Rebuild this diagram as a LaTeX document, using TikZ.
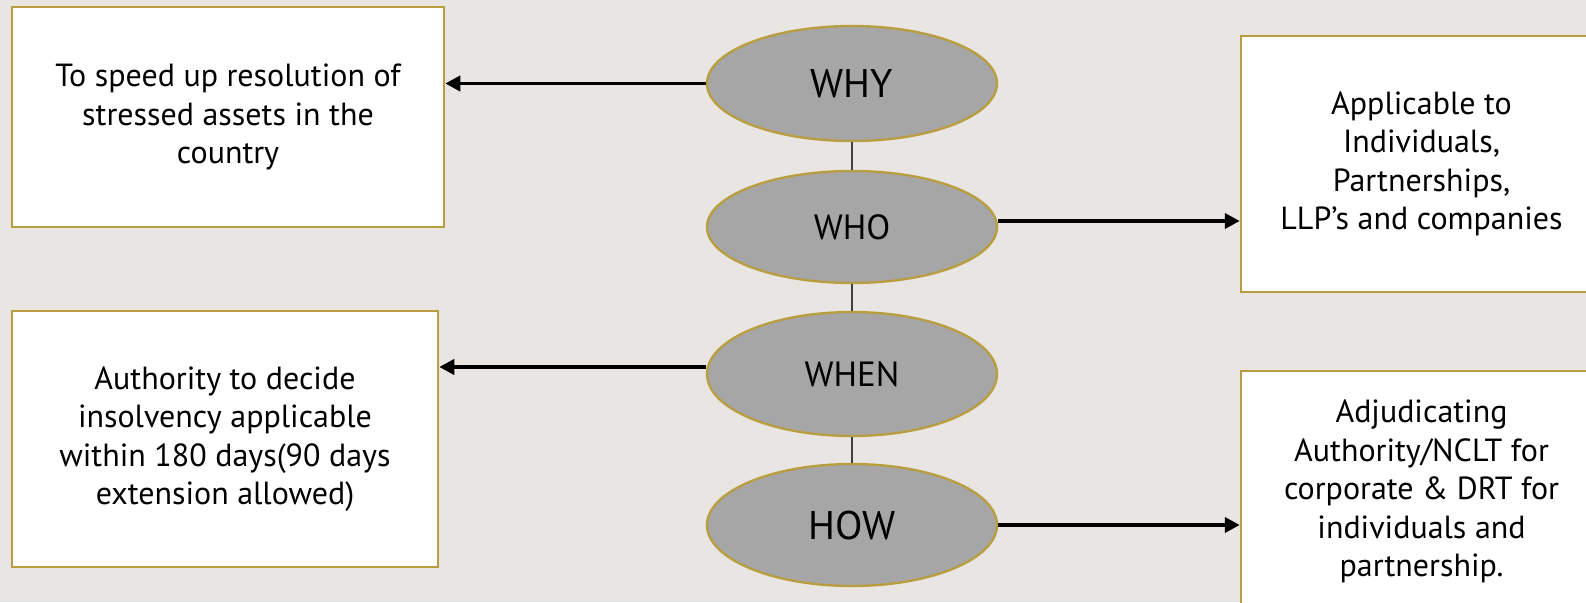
\documentclass[tikz,border=0pt]{standalone}
\usepackage{fontspec}
\setmainfont{PT Sans}
\usetikzlibrary{shapes.geometric,arrows.meta}
\definecolor{bg}{RGB}{232,229,226}
\definecolor{gold}{RGB}{184,158,62}
\definecolor{ellfill}{RGB}{166,166,166}
\definecolor{vline}{RGB}{64,64,64}
\tikzset{
  infobox/.style={draw=gold, line width=2.5pt, fill=white, inner sep=0pt, align=center,
    font=\fontsize{32}{38.5}\selectfont},
  qell/.style={ellipse, draw=gold, line width=2.3pt, fill=ellfill, inner sep=0pt,
    minimum width=290pt},
  bigq/.style={font=\fontsize{40}{44}\selectfont},
  smallq/.style={font=\fontsize{35}{40}\selectfont},
  arr/.style={line width=3.8pt, -{Triangle[length=15pt,width=15pt]}},
  vconn/.style={draw=vline, line width=1.5pt}
}
\begin{document}
\begin{tikzpicture}[x=1pt,y=-1pt]
\useasboundingbox (0,0) rectangle (1586,602);
\clip (0,0) rectangle (1586,602);
\fill[bg] (0,0) rectangle (1586,602);

\node[infobox, minimum width=432pt, minimum height=220pt] (b1) at (228,117)
  {To speed up resolution of\\stressed assets in the\\country};
\node[infobox, minimum width=361pt, minimum height=256pt] (b2) at (1421.5,164)
  {Applicable to\\Individuals,\\Partnerships,\\LLP’s and companies};
\node[infobox, minimum width=426pt, minimum height=256pt] (b3) at (225,439)
  {Authority to decide\\insolvency applicable\\within 180 days(90 days\\extension allowed)};
\node[infobox, minimum width=361pt, minimum height=241pt] (b4) at (1421.5,491.5)
  {Adjudicating\\Authority/NCLT for\\corporate \& DRT for\\individuals and\\partnership.};

\node[qell, bigq, minimum height=115pt] (why) at (852,83.5) {WHY};
\node[qell, smallq, minimum height=112pt] (who) at (852,227) {WHO};
\node[qell, smallq, minimum height=124pt] (when) at (852,374) {WHEN};
\node[qell, bigq, minimum height=122pt] (how) at (852,525) {HOW};

\draw[vconn] (why) -- (who);
\draw[vconn] (who) -- (when);
\draw[vconn] (when) -- (how);

\draw[arr] (why.west) -- (why.west -| b1.east);
\draw[arr] ([yshift=6pt]who.east) -- ([yshift=6pt]who.east -| b2.west);
\draw[arr] ([yshift=7pt]when.west) -- ([yshift=7pt]when.west -| b3.east);
\draw[arr] (how.east) -- (how.east -| b4.west);
\end{tikzpicture}
\end{document}
